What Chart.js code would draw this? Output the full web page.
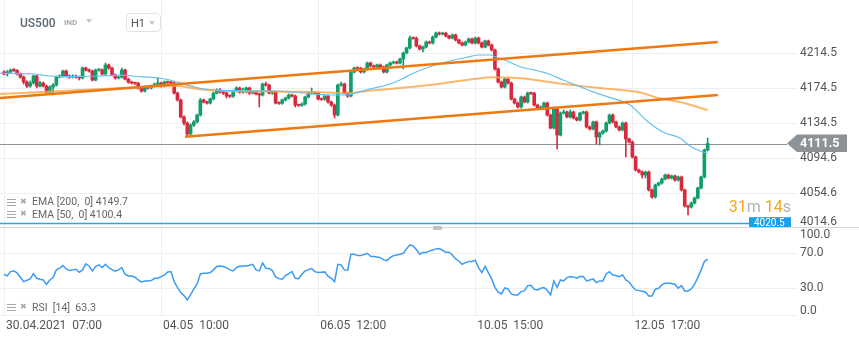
<!DOCTYPE html>
<html>
<head>
<meta charset="utf-8">
<title>US500 H1</title>
<script src="https://cdn.jsdelivr.net/npm/chart.js@4.4.1/dist/chart.umd.min.js"></script>
<style>
  body { margin: 0; background: #fff; font-family: Roboto, "Noto Sans", sans-serif; }
  #wrap { position: relative; width: 859px; height: 341px; overflow: hidden; background: #fff; }
  #wrap canvas { position: absolute; left: 0; }
  .ov { position: absolute; white-space: pre; line-height: 1; }
  .tri { position: absolute; width: 0; height: 0; border-left: 3.5px solid transparent; border-right: 3.5px solid transparent; border-top: 4px solid #c6c6c6; }
  .ico { position: absolute; width: 9px; height: 7px; background: repeating-linear-gradient(#a8a8a8 0 1px, transparent 1px 3px); }
  .xx { position: absolute; font-size: 8px; color: #a8a8a8; line-height: 1; font-family: "DejaVu Sans", sans-serif; }
  .lg { font-size: 10.5px; color: #666; }
</style>
</head>
<body>
<div id="wrap">
  <canvas id="main" width="859" height="228" style="top:0"></canvas>
  <canvas id="rsi" width="859" height="115" style="top:226px"></canvas>

  <div class="ov" style="left:20px;top:17px;font-size:12px;font-weight:500;color:#5b6770">US500</div>
  <div class="ov" style="left:64px;top:19px;font-size:8px;font-weight:700;color:#a3abb0">IND</div>
  <div class="tri" style="left:86px;top:19px"></div>
  <div class="ov" style="left:126px;top:13px;width:33px;height:17px;border:1px solid #e2e2e2;border-radius:4px"></div>
  <div class="ov" style="left:131px;top:18px;font-size:11px;color:#555">H1</div>
  <div class="tri" style="left:149px;top:21px"></div>

  <div class="ico" style="left:7px;top:199px"></div>
  <div class="xx" style="left:20px;top:198px">✖</div>
  <div class="ov lg" id="lg200" style="left:32px;top:197px"></div>
  <div class="ico" style="left:7px;top:211px"></div>
  <div class="xx" style="left:20px;top:210px">✖</div>
  <div class="ov lg" id="lg50" style="left:32px;top:209.5px"></div>

  <div class="ov" style="right:68px;top:199px;font-size:16px;color:#f5a524">31<span style="color:#b3b3b3">m</span> 14<span style="color:#b3b3b3">s</span></div>

  <div class="ov" style="left:0;top:227px;width:859px;height:1px;background:#d6d6d6"></div>
  <div class="ov" style="left:433px;top:226px;width:9px;height:4px;background:#c2c2c2;border-radius:1px"></div>

  <div class="ico" style="left:7px;top:304px"></div>
  <div class="xx" style="left:20px;top:303px">✖</div>
  <div class="ov lg" id="lgrsi" style="left:32px;top:302.5px"></div>
</div>
<script>
// hourly candles, index 0 = 30.04.2021 07:00
var opens = [
  4193.2,4190.9,4193.2,4195.4,4194.9,4190.9,4187.4,4181.7,4177.1,4180.6,
  4188.6,4177.1,4180.6,4177.1,4170.3,4176.0,4178.3,4187.4,4188.6,4194.3,
  4188.6,4187.4,4188.6,4187.4,4186.3,4197.7,4195.4,4194.3,4184.0,4195.4,
  4195.6,4190.9,4201.2,4197.7,4189.7,4186.3,4187.4,4195.4,4185.1,4181.7,
  4180.6,4180.2,4174.9,4171.4,4176.0,4174.9,4177.1,4179.4,4180.6,4177.1,
  4181.7,4181.3,4180.6,4169.1,4161.2,4141.8,4134.9,4122.3,4132.6,4136.1,
  4144.0,4161.2,4158.9,4157.7,4162.3,4169.1,4172.6,4170.3,4169.1,4165.7,
  4165.4,4171.4,4174.9,4170.3,4170.6,4174.9,4169.1,4170.3,4168.0,4166.9,
  4179.4,4178.3,4169.1,4170.3,4157.7,4157.4,4161.2,4163.4,4166.9,4165.7,
  4155.4,4155.1,4156.6,4164.6,4169.1,4169.4,4168.8,4162.3,4162.0,4165.7,
  4158.9,4155.4,4144.0,4178.3,4179.4,4169.1,4165.7,4193.2,4197.7,4197.4,
  4193.2,4196.6,4203.4,4200.0,4198.9,4201.2,4198.9,4193.2,4201.2,4203.4,
  4204.6,4203.4,4208.0,4214.9,4220.6,4232.0,4231.7,4222.9,4219.4,4221.7,
  4227.4,4226.3,4233.1,4237.7,4236.6,4237.5,4234.3,4232.0,4235.4,4229.7,
  4226.3,4224.0,4227.4,4230.9,4226.3,4232.0,4226.3,4221.7,4228.6,4224.0,
  4218.3,4196.6,4181.7,4176.0,4185.1,4180.6,4162.3,4157.7,4153.2,4164.6,
  4158.9,4169.1,4168.8,4155.4,4152.0,4153.2,4157.7,4144.0,4129.2,4150.9,
  4121.2,4146.3,4147.5,4141.8,4147.5,4140.6,4138.3,4146.3,4147.5,4130.3,
  4128.1,4136.1,4118.9,4123.5,4125.8,4134.9,4144.0,4136.1,4130.3,4126.9,
  4134.9,4116.6,4113.2,4096.1,4081.2,4078.9,4075.5,4078.9,4058.4,4050.4,
  4064.1,4066.4,4070.9,4075.5,4072.1,4074.4,4069.8,4073.2,4058.4,4040.1,
  4038.9,4043.5,4049.2,4060.7,4073.2,4104.1
];
var highs = [
  4194.5,4195.0,4196.6,4197.1,4196.0,4192.0,4188.6,4183.0,4182.9,4190.0,
  4189.7,4182.4,4181.7,4178.3,4177.4,4180.0,4188.6,4190.0,4195.4,4195.5,
  4190.0,4189.9,4189.7,4188.6,4199.0,4198.9,4196.8,4195.4,4196.6,4197.0,
  4196.8,4203.4,4202.3,4198.9,4190.9,4188.6,4197.7,4196.6,4186.3,4182.9,
  4181.7,4181.5,4176.0,4177.1,4177.4,4178.3,4180.6,4186.3,4181.7,4183.0,
  4182.9,4182.6,4181.7,4170.3,4162.3,4143.0,4136.1,4134.0,4137.8,4145.2,
  4162.9,4162.3,4160.0,4163.4,4170.3,4174.0,4174.3,4171.4,4170.3,4167.0,
  4172.6,4176.4,4176.0,4174.9,4176.0,4176.0,4171.8,4171.4,4169.1,4180.6,
  4181.7,4179.4,4171.4,4171.4,4159.0,4162.3,4164.6,4168.3,4168.0,4167.0,
  4156.6,4157.9,4165.7,4170.3,4174.9,4170.6,4170.0,4163.4,4166.9,4166.9,
  4160.0,4156.6,4179.4,4181.7,4180.6,4170.3,4194.3,4198.9,4198.9,4198.6,
  4197.7,4204.6,4204.6,4201.2,4202.3,4202.3,4200.0,4202.3,4204.6,4205.7,
  4205.7,4209.2,4216.0,4221.7,4234.3,4233.1,4233.1,4224.0,4222.9,4228.6,
  4228.6,4234.3,4238.9,4238.9,4238.7,4238.7,4235.4,4236.6,4236.6,4230.9,
  4227.4,4228.6,4232.0,4232.0,4233.1,4233.1,4227.4,4229.7,4229.7,4225.1,
  4219.4,4197.7,4182.9,4186.3,4186.3,4181.7,4163.4,4158.9,4165.7,4165.7,
  4170.3,4170.3,4170.0,4156.6,4154.3,4158.9,4158.9,4145.2,4152.0,4152.0,
  4147.5,4149.8,4148.6,4149.8,4148.6,4141.8,4147.5,4148.6,4148.6,4131.5,
  4137.2,4137.2,4124.6,4126.9,4136.1,4145.2,4145.2,4137.2,4131.5,4136.1,
  4136.1,4117.8,4114.4,4097.2,4082.3,4080.1,4080.1,4080.1,4059.5,4065.2,
  4067.5,4072.1,4076.6,4076.6,4075.5,4075.5,4074.4,4074.4,4059.5,4041.2,
  4044.7,4050.4,4061.8,4074.4,4105.2,4117.8
];
var lows = [
  4189.8,4188.6,4192.0,4193.8,4189.7,4185.9,4179.4,4175.5,4175.9,4179.4,
  4175.0,4176.0,4175.9,4167.5,4168.0,4166.9,4177.1,4186.3,4187.4,4187.4,
  4185.9,4186.3,4186.0,4184.0,4185.1,4194.3,4192.9,4182.9,4183.0,4194.0,
  4189.7,4189.7,4196.3,4188.6,4184.9,4185.1,4186.3,4184.0,4180.2,4179.4,
  4178.9,4173.7,4170.0,4170.3,4173.5,4173.7,4176.0,4178.3,4175.9,4176.0,
  4180.0,4179.4,4168.0,4159.8,4140.6,4132.6,4120.1,4121.2,4130.9,4134.9,
  4142.9,4157.7,4156.3,4156.6,4161.2,4168.0,4169.1,4167.5,4163.4,4164.1,
  4164.1,4170.3,4168.9,4169.1,4169.4,4167.5,4168.0,4166.9,4153.2,4165.7,
  4177.1,4168.0,4167.5,4156.6,4156.1,4156.3,4160.0,4162.3,4164.6,4153.2,
  4153.8,4154.0,4155.4,4163.4,4168.0,4167.5,4161.2,4160.6,4160.9,4157.7,
  4154.0,4140.6,4142.9,4177.1,4168.0,4164.1,4164.6,4192.0,4196.0,4192.0,
  4192.0,4195.4,4198.9,4197.7,4197.7,4197.7,4192.0,4192.0,4200.0,4202.3,
  4202.3,4202.3,4196.6,4213.7,4219.4,4230.6,4221.7,4218.3,4216.0,4220.6,
  4225.1,4225.1,4232.0,4235.4,4235.4,4233.1,4230.9,4230.9,4228.6,4225.1,
  4222.9,4222.9,4226.3,4225.1,4225.1,4225.1,4220.6,4220.6,4222.9,4217.1,
  4195.4,4180.6,4174.9,4174.9,4179.4,4161.2,4156.6,4152.0,4152.0,4157.7,
  4157.7,4167.5,4154.3,4150.9,4150.9,4152.0,4142.9,4128.1,4128.1,4105.2,
  4120.1,4145.2,4140.6,4140.6,4139.5,4137.2,4137.2,4145.2,4129.2,4126.9,
  4126.9,4110.9,4109.8,4122.3,4124.6,4133.8,4134.9,4129.2,4125.8,4125.8,
  4096.1,4112.1,4094.9,4080.1,4077.8,4072.1,4072.1,4057.2,4049.2,4049.2,
  4062.9,4065.2,4069.8,4070.9,4070.9,4068.6,4068.6,4057.2,4038.9,4029.8,
  4037.8,4042.4,4048.1,4059.5,4072.1,4103.0
];
var closes = [
  4190.9,4193.2,4195.4,4194.9,4190.9,4187.4,4181.7,4177.1,4180.6,4188.6,
  4177.1,4180.6,4177.1,4170.3,4176.0,4178.3,4187.4,4188.6,4194.3,4188.6,
  4187.4,4188.6,4187.4,4186.3,4197.7,4195.4,4194.3,4184.0,4195.4,4195.6,
  4190.9,4201.2,4197.7,4189.7,4186.3,4187.4,4195.4,4185.1,4181.7,4180.6,
  4180.2,4174.9,4171.4,4176.0,4174.9,4177.1,4179.4,4180.6,4177.1,4181.7,
  4181.3,4180.6,4169.1,4161.2,4141.8,4134.9,4122.3,4132.6,4136.1,4144.0,
  4161.2,4158.9,4157.7,4162.3,4169.1,4172.6,4170.3,4169.1,4165.7,4165.4,
  4171.4,4174.9,4170.3,4170.6,4174.9,4169.1,4170.3,4168.0,4166.9,4179.4,
  4178.3,4169.1,4170.3,4157.7,4157.4,4161.2,4163.4,4166.9,4165.7,4155.4,
  4155.1,4156.6,4164.6,4169.1,4169.4,4168.8,4162.3,4162.0,4165.7,4158.9,
  4155.4,4144.0,4178.3,4179.4,4169.1,4165.7,4193.2,4197.7,4197.4,4193.2,
  4196.6,4203.4,4200.0,4198.9,4201.2,4198.9,4193.2,4201.2,4203.4,4204.6,
  4203.4,4208.0,4214.9,4220.6,4232.0,4231.7,4222.9,4219.4,4221.7,4227.4,
  4226.3,4233.1,4237.7,4236.6,4237.5,4234.3,4232.0,4235.4,4229.7,4226.3,
  4224.0,4227.4,4230.9,4226.3,4232.0,4226.3,4221.7,4228.6,4224.0,4218.3,
  4196.6,4181.7,4176.0,4185.1,4180.6,4162.3,4157.7,4153.2,4164.6,4158.9,
  4169.1,4168.8,4155.4,4152.0,4153.2,4157.7,4144.0,4129.2,4150.9,4121.2,
  4146.3,4147.5,4141.8,4147.5,4140.6,4138.3,4146.3,4147.5,4130.3,4128.1,
  4136.1,4118.9,4123.5,4125.8,4134.9,4144.0,4136.1,4130.3,4126.9,4134.9,
  4116.6,4113.2,4096.1,4081.2,4078.9,4075.5,4078.9,4058.4,4050.4,4064.1,
  4066.4,4070.9,4075.5,4072.1,4074.4,4069.8,4073.2,4058.4,4040.1,4038.9,
  4043.5,4049.2,4060.7,4073.2,4104.1,4111.5
];
var rsiValues = [
  46.0,44.1,49.0,49.8,47.5,42.6,37.6,39.1,40.7,46.8,
  41.4,40.3,39.5,34.6,39.5,42.2,51.0,52.9,55.9,52.1,
  50.2,51.0,51.7,48.3,51.0,57.8,55.5,49.8,54.8,56.7,
  53.6,57.4,53.6,51.3,49.4,51.0,53.6,46.0,44.1,44.1,
  42.6,39.5,36.9,38.4,38.4,38.8,41.4,41.4,43.3,44.9,
  48.7,49.0,37.6,31.1,25.0,21.6,16.7,22.4,29.2,34.6,
  46.4,47.1,47.1,47.9,51.0,54.8,55.5,54.8,53.6,51.0,
  49.8,53.6,55.1,55.5,55.5,56.3,57.4,51.0,49.8,59.0,
  52.9,52.5,50.2,43.0,41.0,40.3,44.5,46.8,49.0,41.4,
  41.0,46.0,49.8,51.3,52.5,49.0,47.9,48.3,48.7,43.7,
  41.4,37.6,57.4,56.7,51.0,50.6,68.9,68.9,67.3,67.3,
  68.5,70.0,66.6,66.2,65.8,65.0,62.4,61.6,65.0,67.3,
  68.1,68.9,70.0,75.0,79.5,78.4,74.2,68.9,70.8,70.8,
  72.7,73.8,75.0,75.3,73.4,71.1,71.1,68.1,63.5,60.9,
  57.4,59.3,60.5,60.5,62.0,53.6,47.9,55.0,47.9,40.7,
  31.1,25.4,23.5,30.4,29.2,23.5,22.4,22.4,26.2,27.0,
  33.0,33.4,28.9,28.1,30.0,30.8,27.7,22.4,38.4,30.8,
  39.5,38.4,42.2,43.3,43.0,41.4,43.3,43.3,38.4,39.5,
  40.7,36.5,38.4,38.4,46.4,49.0,45.2,44.5,43.3,45.2,
  39.5,37.2,31.9,28.1,27.3,26.6,25.8,21.2,21.2,28.9,
  30.0,33.8,35.7,35.7,35.3,34.6,30.0,33.0,27.0,27.0,
  29.2,34.6,42.2,51.0,60.5,63.3
];

// EMA lines (candle index, price)
var ema50Idx = [-1.2,8.9,14,19.2,29.3,35.4,41.6,47.7,51.6,55.9,59.9,63.9,69,80.4,90.4,95.6,100.5,104.8,108.8,112.7,117,121,125,130.2,135.4,141.5,145.4,148.5,150,153.7,157.7,160.7,165.9,170.8,176,181.2,186.1,191.3,196.5,201.3,206.5,209.6,212.6,215];
var ema50Vals = [4191.6,4190.9,4188.6,4187.8,4188.6,4189.7,4187.8,4186.0,4183.2,4178.3,4174.5,4172.6,4171.8,4171.5,4169.5,4167.7,4166.9,4166.9,4170.7,4174.5,4178.3,4184.0,4191.7,4199.2,4204.9,4210.0,4212.6,4212.6,4210.6,4205.7,4199.2,4196.6,4191.7,4184.0,4176.4,4168.8,4163.1,4155.4,4137.2,4124.6,4117.8,4108.6,4103.0,4100.4];
var ema200Idx = [-1.2,23.2,41.6,52.9,59.9,69,90.4,100.5,104.8,110.9,117,125,135.4,145.4,149.4,155.5,160.7,165.9,176,186.1,194.3,200.4,206.5,215];
var ema200Vals = [4168.0,4172.6,4175.7,4177.2,4173.4,4171.5,4170.7,4169.5,4168.8,4171.5,4173.4,4176.4,4180.9,4186.0,4187.1,4186.5,4184.8,4182.1,4177.2,4173.4,4169.7,4163.1,4158.9,4149.7];

// hand drawn channel
var channelUpIdx = [-1.22, 218.1];
var channelUpVals = [4163.4, 4227.4];
var channelLowIdx = [55.3, 218.1];
var channelLowVals = [4119.2, 4166.9];

var priceTicks = [4014.6, 4054.6, 4094.6, 4134.5, 4174.5, 4214.5];
var rsiTicks = [0, 30, 70, 100];
var rsiTickLabels = ['0.0', '30.0', '70.0', '100.0'];
var timeTickIdx = [0, 48, 96, 144, 192];
var timeTickLabels = ['30.04.2021  07:00', '04.05  10:00', '06.05  12:00', '10.05  15:00', '12.05  17:00'];
var lastPrice = 4111.5;
var alertPrice = 4020.5;

var xMin = -1.22, xMax = 242.3;
var upColor = '#139d69', downColor = '#d62a3e';

document.getElementById('lg200').textContent = 'EMA [200,  0] ' + ema200Vals[ema200Vals.length - 1].toFixed(1);
document.getElementById('lg50').textContent = 'EMA [50,  0] ' + ema50Vals[ema50Vals.length - 1].toFixed(1);
document.getElementById('lgrsi').textContent = 'RSI  [14]  ' + rsiValues[rsiValues.length - 1].toFixed(1);

function pts(idx, vals) {
  return idx.map(function (x, i) { return { x: x, y: vals[i] }; });
}

var colors = closes.map(function (c, i) { return c >= opens[i] ? upColor : downColor; });
var bodies = closes.map(function (c, i) { return { x: i, y: [opens[i], c] }; });
var wicks = closes.map(function (c, i) { return { x: i, y: [lows[i], highs[i]] }; });

function axisPlugin(yTicks, yLabels, clampTop, clampBottom, withTime) {
  return {
    id: 'panelAxes',
    beforeDatasetsDraw: function (chart) {
      var ctx = chart.ctx, a = chart.chartArea;
      var xs = chart.scales.x, ys = chart.scales.y;
      ctx.save();
      ctx.strokeStyle = '#efefef';
      ctx.lineWidth = 1;
      ctx.beginPath();
      timeTickIdx.forEach(function (v) {
        var px = Math.round(xs.getPixelForValue(v)) + 0.5;
        ctx.moveTo(px, a.top);
        ctx.lineTo(px, a.bottom);
      });
      yTicks.forEach(function (v) {
        var py = Math.round(ys.getPixelForValue(v)) + 0.5;
        ctx.moveTo(a.left, py);
        ctx.lineTo(a.right, py);
      });
      ctx.stroke();
      ctx.restore();
    },
    afterDraw: function (chart) {
      var ctx = chart.ctx, a = chart.chartArea;
      var xs = chart.scales.x, ys = chart.scales.y;
      ctx.save();
      ctx.font = '12px Roboto';
      ctx.fillStyle = '#555';
      ctx.textAlign = 'left';
      ctx.textBaseline = 'middle';
      yTicks.forEach(function (v, i) {
        var py = ys.getPixelForValue(v);
        py = Math.max(a.top + clampTop, Math.min(a.bottom - clampBottom, py));
        ctx.fillText(yLabels[i], a.right + 3, py);
      });
      if (withTime) {
        timeTickIdx.forEach(function (v, i) {
          ctx.fillText(timeTickLabels[i], xs.getPixelForValue(v) + 2, a.bottom + 11);
        });
      }
      ctx.restore();
    }
  };
}

var levelPlugin = {
  id: 'levels',
  beforeDatasetsDraw: function (chart) {
    var ctx = chart.ctx, ys = chart.scales.y;
    var pl = Math.round(ys.getPixelForValue(lastPrice)) + 0.5;
    var pa = Math.round(ys.getPixelForValue(alertPrice)) + 0.5;
    ctx.save();
    ctx.lineWidth = 1;
    ctx.strokeStyle = '#8e9397';
    ctx.beginPath(); ctx.moveTo(0, pl); ctx.lineTo(787, pl); ctx.stroke();
    ctx.strokeStyle = '#2ba4ea';
    ctx.lineWidth = 1.3;
    ctx.beginPath(); ctx.moveTo(0, pa); ctx.lineTo(749, pa); ctx.stroke();
    ctx.restore();
  },
  afterDraw: function (chart) {
    var ctx = chart.ctx, ys = chart.scales.y;
    var pl = ys.getPixelForValue(lastPrice);
    var pa = ys.getPixelForValue(alertPrice);
    ctx.save();
    ctx.fillStyle = '#8c9295';
    ctx.beginPath();
    ctx.moveTo(787, pl);
    ctx.lineTo(797, pl - 9);
    ctx.lineTo(847, pl - 9);
    ctx.lineTo(847, pl + 8.5);
    ctx.lineTo(797, pl + 8.5);
    ctx.closePath();
    ctx.fill();
    ctx.fillStyle = '#fff';
    ctx.font = 'bold 12.5px Roboto';
    ctx.textBaseline = 'middle';
    ctx.fillText(lastPrice.toFixed(1), 800, pl + 0.5);

    ctx.fillStyle = '#1c9fe8';
    ctx.fillRect(749, pa - 6, 42, 12);
    ctx.fillStyle = '#fff';
    ctx.font = '10px Roboto';
    ctx.fillText(alertPrice.toFixed(1), 754, pa + 0.5);
    ctx.restore();
  }
};

new Chart(document.getElementById('main'), {
  type: 'bar',
  data: {
    datasets: [
      { type: 'line', data: pts(channelUpIdx, channelUpVals), borderColor: '#ef7811', borderWidth: 2.5, pointRadius: 0, order: 0 },
      { type: 'line', data: pts(channelLowIdx, channelLowVals), borderColor: '#ef7811', borderWidth: 2.5, pointRadius: 0, order: 0 },
      { type: 'line', data: pts(ema50Idx, ema50Vals), borderColor: '#68c0ec', borderWidth: 1.2, pointRadius: 0, cubicInterpolationMode: 'monotone', order: 1 },
      { type: 'line', data: pts(ema200Idx, ema200Vals), borderColor: 'rgba(247,166,72,0.8)', borderWidth: 2, pointRadius: 0, cubicInterpolationMode: 'monotone', order: 1 },
      { data: bodies, backgroundColor: colors, barThickness: 3, grouped: false, minBarLength: 1, order: 2 },
      { data: wicks, backgroundColor: colors, barThickness: 1, grouped: false, order: 3 }
    ]
  },
  options: {
    responsive: false,
    animation: false,
    events: [],
    layout: { padding: { left: 0, right: 62, top: 0, bottom: 0 } },
    plugins: { legend: { display: false }, tooltip: { enabled: false } },
    scales: {
      x: { type: 'linear', min: xMin, max: xMax, offset: false, display: false },
      y: { min: 4015.0, max: 4275.4, beginAtZero: false, display: false }
    }
  },
  plugins: [axisPlugin(priceTicks, priceTicks.map(function (v) { return v.toFixed(1); }), 0, 6, false), levelPlugin]
});

new Chart(document.getElementById('rsi'), {
  type: 'line',
  data: {
    datasets: [{
      data: rsiValues.map(function (v, i) { return { x: i, y: v }; }),
      borderColor: '#3a9cf2',
      borderWidth: 1.5,
      pointRadius: 0,
      tension: 0
    }]
  },
  options: {
    responsive: false,
    animation: false,
    events: [],
    layout: { padding: { left: 0, right: 62, top: 1, bottom: 26.5 } },
    plugins: { legend: { display: false }, tooltip: { enabled: false } },
    scales: {
      x: { type: 'linear', min: xMin, max: xMax, display: false },
      y: { min: 0, max: 100, display: false }
    }
  },
  plugins: [axisPlugin(rsiTicks, rsiTickLabels, 8, 3.5, true)]
});
</script>
</body>
</html>
